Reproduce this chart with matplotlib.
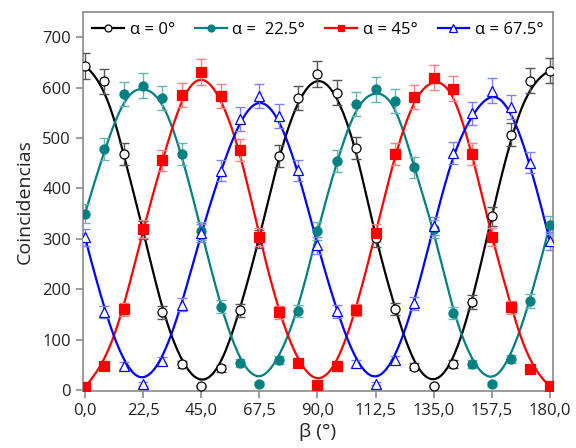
import numpy as np
import matplotlib
matplotlib.use("Agg")
import matplotlib.pyplot as plt
from matplotlib.lines import Line2D

plt.rcParams["font.family"] = ["Open Sans", "DejaVu Sans"]

beta = [0, 7.5, 15, 22.5, 30, 37.5, 45, 52.5, 60, 67.5, 75, 82.5, 90,
        97.5, 105, 112.5, 120, 127.5, 135, 142.5, 150, 157.5, 165, 172.5, 180]

c_a0 = [643, 613, 468, 318, 154, 51, 8, 43, 158, 300, 465, 580, 627,
        590, 481, 301, 161, 46, 8, 52, 175, 345, 507, 614, 634]
c_a22 = [350, 478, 587, 604, 579, 469, 316, 165, 54, 13, 60, 157, 315,
         455, 567, 597, 574, 442, 319, 153, 52, 12, 61, 177, 327]
c_a45 = [7, 48, 160, 319, 456, 586, 631, 584, 477, 304, 154, 54, 10,
         48, 159, 311, 468, 582, 620, 598, 468, 304, 164, 41, 8]
c_a67 = [303, 155, 48, 12, 58, 169, 312, 435, 538, 584, 544, 436, 287,
         156, 53, 13, 59, 172, 325, 471, 549, 594, 562, 451, 296]

labels = ["α = 0°", "α =  22.5°", "α = 45°", "α = 67.5°"]
xticks = [0, 22.5, 45, 67.5, 90, 112.5, 135, 157.5, 180]
xticklabels = ["0,0", "22,5", "45,0", "67,5", "90,0", "112,5", "135,0", "157,5", "180,0"]

series = [
    (c_a0, "black", "#555555", "o", "white"),
    (c_a22, "#008080", "#66b3b3", "o", "#008080"),
    (c_a45, "#ff0000", "#ff8080", "s", "#ff0000"),
    (c_a67, "#0000ff", "#8080ff", "^", "white"),
]


def bspline(px, py, k=3, num=800):
    # clamped uniform B-spline using the data points as control points
    n = len(px)
    knots = np.concatenate([np.zeros(k), np.arange(n - k + 1), np.full(k, n - k)]).astype(float)
    t = np.linspace(0, n - k, num)
    t[-1] -= 1e-9
    N = np.array([((knots[i] <= t) & (t < knots[i + 1])).astype(float)
                  for i in range(len(knots) - 1)])
    for d in range(1, k + 1):
        new = np.zeros((len(knots) - 1 - d, num))
        for i in range(len(knots) - 1 - d):
            a = knots[i + d] - knots[i]
            c = knots[i + d + 1] - knots[i + 1]
            left = (t - knots[i]) / a * N[i] if a > 0 else 0
            right = (knots[i + d + 1] - t) / c * N[i + 1] if c > 0 else 0
            new[i] = left + right
        N = new
    return N.T @ np.asarray(px, float), N.T @ np.asarray(py, float)


fig = plt.figure(figsize=(5.76, 4.48), dpi=100)
ax = fig.add_axes([0.144, 0.127, 0.816, 0.846])

b = np.array(beta, dtype=float)
handles = []
for counts, col, ecol, mk, fc in series:
    y = np.array(counts, dtype=float)
    sx, sy = bspline(b, y)
    ax.plot(sx, sy, color=col, lw=1.6, zorder=2)
    ax.errorbar(b, y, yerr=np.sqrt(y), fmt="none", ecolor=ecol, elinewidth=1,
                capsize=3.5, capthick=1, zorder=3)
    ms = 6.5 if mk != "^" else 7.5
    ax.plot(b, y, ls="none", marker=mk, ms=ms, mfc=fc, mec=col, mew=0.9, zorder=4)
    handles.append(Line2D([], [], color=col, lw=1.6, marker=mk, ms=ms - 1.5,
                          mfc=fc, mec=col, mew=0.9))

ax.set_xlim(-0.8, 181.2)
ax.set_ylim(-2, 750)
ax.set_xticks(xticks)
ax.set_xticklabels(xticklabels)
ax.set_yticks(range(0, 701, 100))

for s in ax.spines.values():
    s.set_color("#8a8a8a")
    s.set_linewidth(1.2)
ax.tick_params(colors="#8a8a8a", labelcolor="#222222", labelsize=12, length=5, width=1.2)

ax.set_xlabel("β (°)", fontsize=14, color="#222222", labelpad=3)
ax.set_ylabel("Coincidencias", fontsize=14, color="#222222", labelpad=6)

ax.legend(handles, labels, loc="upper center", ncol=4, frameon=False, fontsize=12,
          handlelength=1.9, handletextpad=0.35, columnspacing=1.2,
          borderaxespad=0.2, bbox_to_anchor=(0.5, 1.0))

fig.savefig("out.png", dpi=100)
